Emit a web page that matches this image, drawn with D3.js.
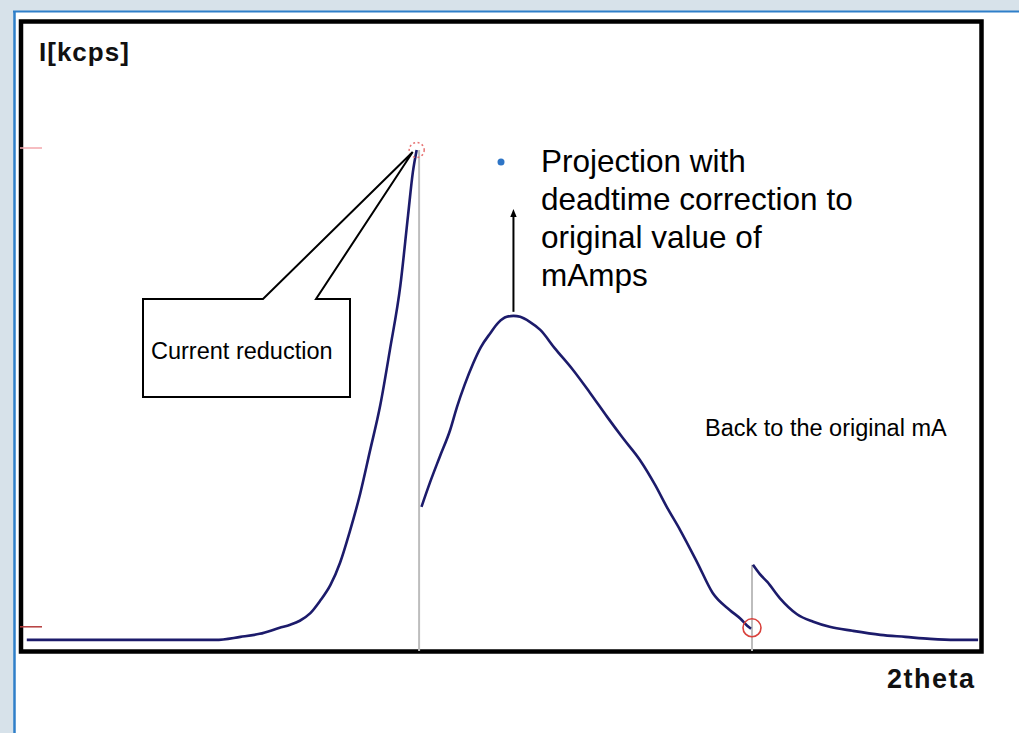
<!DOCTYPE html>
<html>
<head>
<meta charset="utf-8">
<script src="https://cdn.jsdelivr.net/npm/d3@7"></script>
<style>
  html, body { margin: 0; padding: 0; background: #d7e2ea; }
  svg { display: block; }
  text { font-family: "Liberation Sans", Arial, sans-serif; }
</style>
</head>
<body>
<svg id="chart" width="1019" height="733"></svg>
<script>
// Scan intensity vs 2theta, in three pieces split by the current steps.
// Rising flank measured at full current, up to the reduction point.
const scanBefore = [
  [0.5, 2.4], [8.1, 2.4], [20.2, 2.4], [22.8, 3.0], [24.8, 3.6], [26.9, 4.8],
  [28.0, 5.4], [29.0, 6.2], [30.1, 7.7], [31.1, 10.1], [32.2, 13.3], [33.2, 17.7],
  [34.2, 23.8], [35.3, 31.4], [36.3, 39.7], [37.4, 49.0], [38.4, 59.9], [39.5, 72.8],
  [40.3, 86.7], [40.8, 95.2], [41.2, 99.6]
];
// Top of the peak measured at the reduced current.
const scanReduced = [
  [41.7, 28.8], [42.6, 33.7], [43.6, 38.7], [44.7, 44.1], [45.4, 48.6], [46.2, 53.0],
  [47.1, 57.3], [47.9, 60.5], [48.9, 63.3], [49.7, 65.3], [50.6, 66.5], [51.3, 66.7],
  [52.0, 66.5], [53.0, 65.5], [54.1, 63.9], [55.6, 60.3], [57.5, 56.0], [59.3, 51.4],
  [61.1, 46.6], [62.7, 42.5], [64.5, 38.1], [66.1, 33.1], [67.3, 28.8], [68.7, 24.2],
  [70.5, 17.7], [72.1, 11.7], [73.9, 8.3], [75.0, 6.6], [75.7, 5.2], [76.1, 4.6]
];
// Tail measured again at the original current.
const scanRestored = [
  [76.3, 17.3], [77.0, 15.5], [77.8, 13.9], [79.1, 10.7], [80.9, 7.5], [82.6, 6.0],
  [84.3, 5.0], [86.7, 4.2], [89.6, 3.4], [92.2, 3.0], [94.8, 2.6], [97.4, 2.4], [99.8, 2.4]
];

// Switch points (2theta) and reference levels (kcps)
const switchPoints = [41.45, 76.2];
const peakPoint = [41.2, 99.6];
const valleyPoint = [76.2, 4.8];
const levelTicks = [100, 5];
const projectedPeak = [51.3, 66.7, 87.7];   // x, measured top, corrected top

const axisLabels = { y: "I[kcps]", x: "2theta" };
const noteLines = ["Projection with", "deadtime correction to", "original value of", "mAmps"];
const calloutText = "Current reduction";
const restoreText = "Back to the original mA";

const svg = d3.select("#chart");
const W = 1019, H = 733;

// Page background and slide border
svg.append("rect").attr("width", W).attr("height", H).attr("fill", "#d7e2ea");
svg.append("rect").attr("x", 15).attr("y", 12).attr("width", W - 15).attr("height", H - 12).attr("fill", "#ffffff");
svg.append("line").attr("x1", 13).attr("x2", W).attr("y1", 11.5).attr("y2", 11.5)
  .attr("stroke", "#2f7fc9").attr("stroke-width", 2);
svg.append("line").attr("x1", 14.5).attr("x2", 14.5).attr("y1", 11).attr("y2", H)
  .attr("stroke", "#2f7fc9").attr("stroke-width", 2.5);

const x = d3.scaleLinear().domain([0, 100]).range([22, 980]);
const y = d3.scaleLinear().domain([0, 100]).range([652, 148]);

// Plot frame
svg.append("rect").attr("x", 21).attr("y", 21.5).attr("width", 960.5).attr("height", 630)
  .attr("fill", "none").attr("stroke", "#000").attr("stroke-width", 4.5);

// Level ticks on the left edge
svg.selectAll("line.level").data(levelTicks).join("line")
  .attr("class", "level")
  .attr("x1", 20).attr("x2", 42)
  .attr("y1", d => y(d)).attr("y2", d => y(d))
  .attr("stroke", (d, i) => i === 0 ? "#f3a7ad" : "#b53b3b")
  .attr("stroke-width", 1.5);

// Vertical markers at the current switch points
const switchTops = [peakPoint[1], scanRestored[0][1]];
svg.selectAll("line.switch").data(switchPoints).join("line")
  .attr("class", "switch")
  .attr("x1", d => x(d)).attr("x2", d => x(d))
  .attr("y1", (d, i) => y(switchTops[i])).attr("y2", 651)
  .attr("stroke", "#bdbdbd").attr("stroke-width", 2);

// Intensity curve
const line = d3.line().x(d => x(d[0])).y(d => y(d[1])).curve(d3.curveMonotoneX);
svg.selectAll("path.scan").data([scanBefore, scanReduced, scanRestored]).join("path")
  .attr("class", "scan")
  .attr("d", line)
  .attr("fill", "none")
  .attr("stroke", "#1c1b6b")
  .attr("stroke-width", 2.6)
  .attr("stroke-linejoin", "round");

// Circles at the reduction and restore points
svg.append("circle").attr("cx", x(peakPoint[0])).attr("cy", y(peakPoint[1]))
  .attr("r", 7.5).attr("fill", "none").attr("stroke", "#e77474")
  .attr("stroke-width", 1.5).attr("stroke-dasharray", "2,2.5");
svg.append("circle").attr("cx", x(valleyPoint[0])).attr("cy", y(valleyPoint[1]))
  .attr("r", 9).attr("fill", "none").attr("stroke", "#d9413c").attr("stroke-width", 1.6);

// Projection arrow above the reduced peak
svg.append("defs").append("marker")
  .attr("id", "head").attr("viewBox", "0 0 10 10").attr("refX", 5).attr("refY", 5)
  .attr("markerWidth", 4).attr("markerHeight", 4).attr("orient", "auto-start-reverse")
  .append("path").attr("d", "M0,1 L10,5 L0,9 Z").attr("fill", "#000");
svg.append("line")
  .attr("x1", x(projectedPeak[0])).attr("x2", x(projectedPeak[0]))
  .attr("y1", y(projectedPeak[1]) - 4).attr("y2", y(projectedPeak[2]) + 3)
  .attr("stroke", "#000").attr("stroke-width", 2)
  .attr("marker-end", "url(#head)");

// Callout box pointing at the reduction point
const tip = [x(peakPoint[0]) - 4, y(peakPoint[1]) + 2];
const box = { x0: 143, y0: 299, x1: 350, y1: 397, g0: 263, g1: 316 };
svg.append("path")
  .attr("d", `M${box.g0},${box.y0} L${box.x0},${box.y0} L${box.x0},${box.y1} L${box.x1},${box.y1} L${box.x1},${box.y0} L${box.g1},${box.y0} L${tip[0]},${tip[1]} Z`)
  .attr("fill", "#fff").attr("stroke", "#000").attr("stroke-width", 2)
  .attr("stroke-linejoin", "miter");
svg.append("text").attr("x", 151).attr("y", 359)
  .attr("font-size", 23.5).attr("fill", "#000").text(calloutText);

// Note text with bullet
svg.append("circle").attr("cx", 501).attr("cy", 162).attr("r", 3.5).attr("fill", "#2e75c6");
svg.selectAll("text.note").data(noteLines).join("text")
  .attr("class", "note")
  .attr("x", 541).attr("y", (d, i) => 172 + i * 38)
  .attr("font-size", 31.5).attr("fill", "#000").text(d => d);

svg.append("text").attr("x", 705).attr("y", 436)
  .attr("font-size", 23.5).attr("fill", "#000").text(restoreText);

// Axis labels
svg.append("text").attr("x", 39).attr("y", 61)
  .attr("font-size", 26).attr("font-weight", "bold").attr("letter-spacing", 1)
  .attr("fill", "#111").text(axisLabels.y);
svg.append("text").attr("x", 887).attr("y", 688)
  .attr("font-size", 27).attr("font-weight", "bold").attr("letter-spacing", 1.5)
  .attr("fill", "#111").text(axisLabels.x);
</script>
</body>
</html>
